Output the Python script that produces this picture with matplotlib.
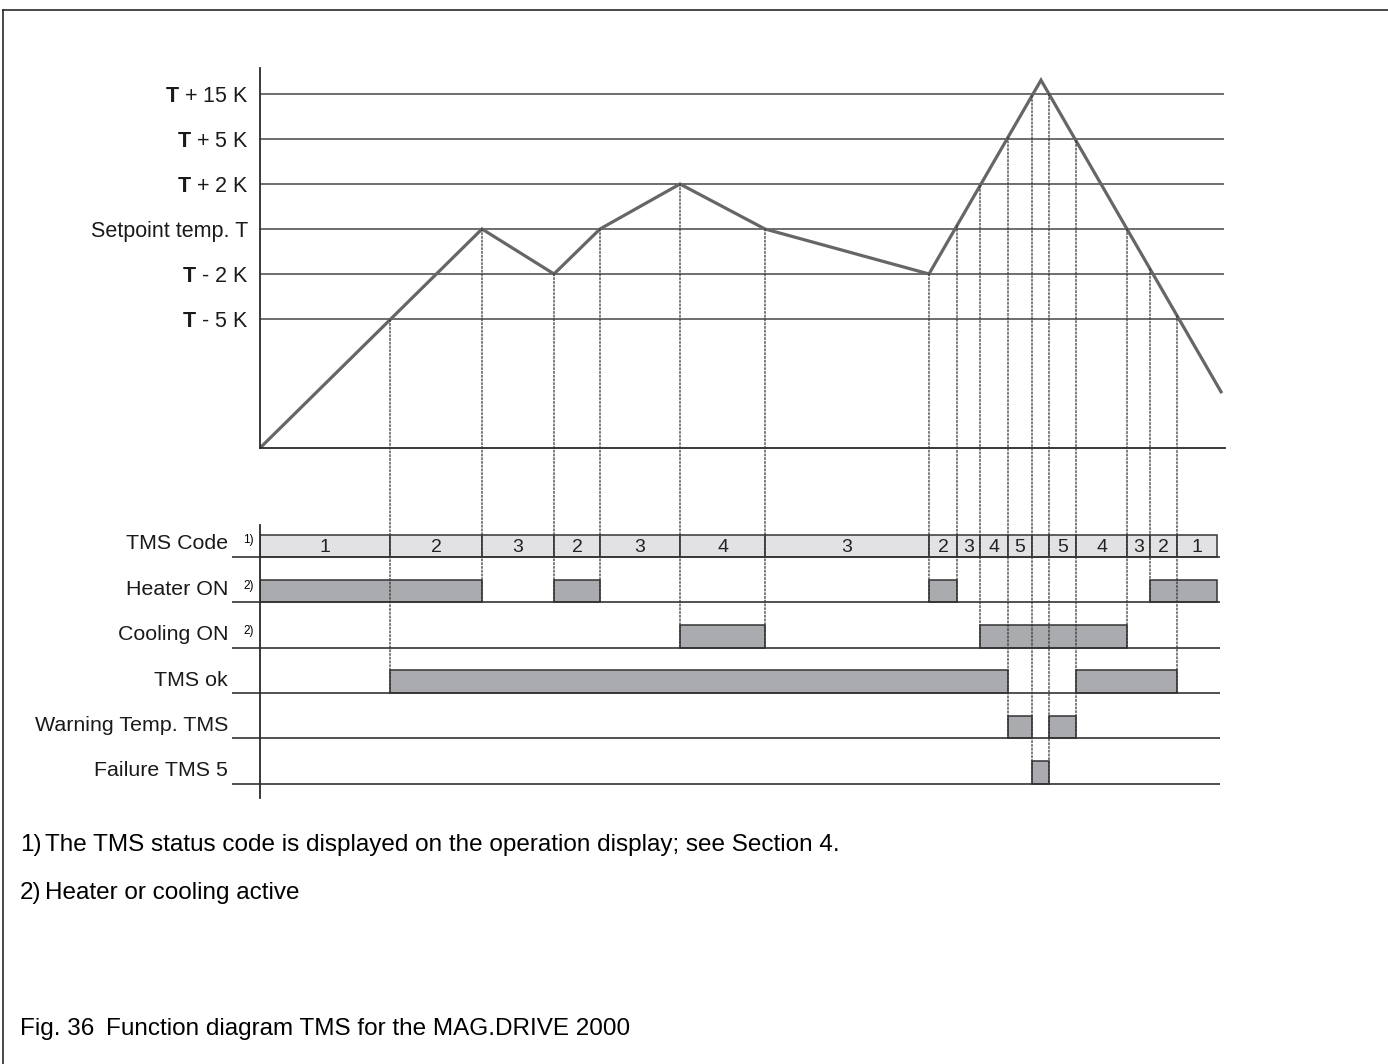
import numpy as np
import matplotlib.pyplot as plt
from matplotlib.patches import ConnectionPatch
from matplotlib.lines import Line2D

plt.rcParams["font.family"] = ["Liberation Sans", "DejaVu Sans"]
plt.rcParams["mathtext.fontset"] = "custom"
plt.rcParams["mathtext.rm"] = "Liberation Sans"
plt.rcParams["mathtext.bf"] = "Liberation Sans:bold"

# temperature levels, drawn evenly spaced
levels = [1, 2, 3, 4, 5, 6]
level_labels = [r"$\mathbf{T}$ - 5 K", r"$\mathbf{T}$ - 2 K", "Setpoint temp. T",
                r"$\mathbf{T}$ + 2 K", r"$\mathbf{T}$ + 5 K", r"$\mathbf{T}$ + 15 K"]

# temperature course (time, level)
temp_t = [0, 22.2, 29.4, 34.0, 42.0, 50.5, 66.9, 78.1, 96.1]
temp_y = [-1.87, 3, 2, 3, 4, 3, 2, 6.31, -0.62]

# TMS status code per time segment
code_edges = [0, 13.0, 22.2, 29.4, 34.0, 42.0, 50.5, 66.9, 69.7, 72.0, 74.8,
              77.2, 78.9, 81.6, 86.7, 89.0, 91.7, 95.7]
code_values = ["1", "2", "3", "2", "3", "4", "3", "2", "3", "4", "5", "",
               "5", "4", "3", "2", "1"]

row_labels = ["TMS Code", "Heater ON", "Cooling ON", "TMS ok",
              "Warning Temp. TMS", "Failure TMS 5"]
row_notes = ["1)", "2)", "2)", "", "", ""]

# on-intervals of the signals (start, end)
heater_on = [(0, 22.2), (29.4, 34.0), (66.9, 69.7), (89.0, 95.7)]
cooling_on = [(42.0, 50.5), (72.0, 86.7)]
tms_ok = [(13.0, 74.8), (81.6, 91.7)]
warning = [(74.8, 77.2), (78.9, 81.6)]
failure = [(77.2, 78.9)]
signals = [heater_on, cooling_on, tms_ok, warning, failure]

W, H = 1388, 1064
fig = plt.figure(figsize=(W / 100, H / 100), dpi=100)


def box(x0, y0, x1, y1):
    return [x0 / W, 1 - y1 / H, (x1 - x0) / W, (y1 - y0) / H]


dark = "#2a2a2a"
bar_col = "#aaabae"

# --- temperature chart ---
ax = fig.add_axes(box(260, 68, 1225, 448))
ax.set_xlim(0, 96.5)
ax.set_ylim(-1.87, 6.58)
ax.hlines(levels, 0, 96.4, colors="#555555", lw=1.2)
ax.plot(temp_t, temp_y, color="#666666", lw=2.3, solid_joinstyle="miter")
ax.set_yticks(levels)
ax.set_yticklabels(level_labels, fontsize=15.5)
ax.tick_params(axis="y", length=0, pad=8.5, colors="#1a1a1a")
ax.set_xticks([])
for s in ["top", "right"]:
    ax.spines[s].set_visible(False)
for s in ["left", "bottom"]:
    ax.spines[s].set_linewidth(1.3)
    ax.spines[s].set_color(dark)

# --- timing diagram ---
ax2 = fig.add_axes(box(260, 525, 1225, 798))
ax2.set_xlim(0, 96.5)
ax2.set_ylim(5.31, -0.70)
rows = np.arange(len(row_labels))
ax2.hlines(rows, -2.8, 96.0, colors="#333333", lw=1.2, clip_on=False)

widths = np.diff(code_edges)
ax2.bar(code_edges[:-1], 0.48, width=widths, bottom=-0.48, align="edge",
        color="#e2e2e4", edgecolor="#444444", lw=1.2)
for x0, w, v in zip(code_edges[:-1], widths, code_values):
    ax2.text(x0 + w / 2, -0.2, v, ha="center", va="center", fontsize=14,
             color="#222222")

for k, sig in enumerate(signals, start=1):
    starts = [a for a, b in sig]
    lens = [b - a for a, b in sig]
    ax2.bar(starts, 0.5, width=lens, bottom=k - 0.5, align="edge",
            color=bar_col, edgecolor="#333333", lw=1.1)

ax2.set_yticks(rows - 0.33)
ax2.set_yticklabels(row_labels, fontsize=15.4)
ax2.tick_params(axis="y", length=0, pad=23, colors="#1a1a1a")
ax2.set_xticks([])
for s in ["top", "right", "bottom"]:
    ax2.spines[s].set_visible(False)
ax2.spines["left"].set_linewidth(1.3)
ax2.spines["left"].set_color(dark)
for k, n in enumerate(row_notes):
    if n:
        ax2.text(-0.6, k - 0.36, n, ha="right", va="center", fontsize=8.5,
                 clip_on=False)

# dotted guide lines from the temperature curve to the deepest switching row
edge_row = {}
for k, sig in enumerate(signals, start=1):
    for a, b in sig:
        for t in (a, b):
            edge_row[t] = max(edge_row.get(t, 0), k)
for t, k in sorted(edge_row.items()):
    if t <= 0 or t >= 95.7:
        continue
    y_top = np.interp(t, temp_t, temp_y)
    con = ConnectionPatch(xyA=(t, y_top), coordsA=ax.transData,
                          xyB=(t, k), coordsB=ax2.transData,
                          arrowstyle="-", linestyle=(0, (1.5, 1.5)),
                          color="#333333", lw=0.9)
    fig.add_artist(con)

# footnotes
fs = 17.5
fig.text(20 / W, 1 - 845 / H, "1)", fontsize=fs, va="center")
fig.text(45 / W, 1 - 845 / H,
         "The TMS status code is displayed on the operation display; see Section 4.",
         fontsize=fs, va="center")
fig.text(20 / W, 1 - 893 / H, "2)", fontsize=fs, va="center")
fig.text(45 / W, 1 - 893 / H, "Heater or cooling active", fontsize=fs, va="center")
fig.text(20 / W, 1 - 1029 / H, "Fig. 36", fontsize=fs, va="center")
fig.text(106 / W, 1 - 1029 / H, "Function diagram TMS for the MAG.DRIVE 2000",
         fontsize=fs, va="center")

# page frame
fig.add_artist(Line2D([3 / W, 3 / W], [0, 1 - 10 / H], color=dark, lw=1.2,
                      transform=fig.transFigure))
fig.add_artist(Line2D([3 / W, 1], [1 - 10 / H, 1 - 10 / H], color=dark, lw=1.2,
                      transform=fig.transFigure))

fig.savefig("out.png", dpi=100)
